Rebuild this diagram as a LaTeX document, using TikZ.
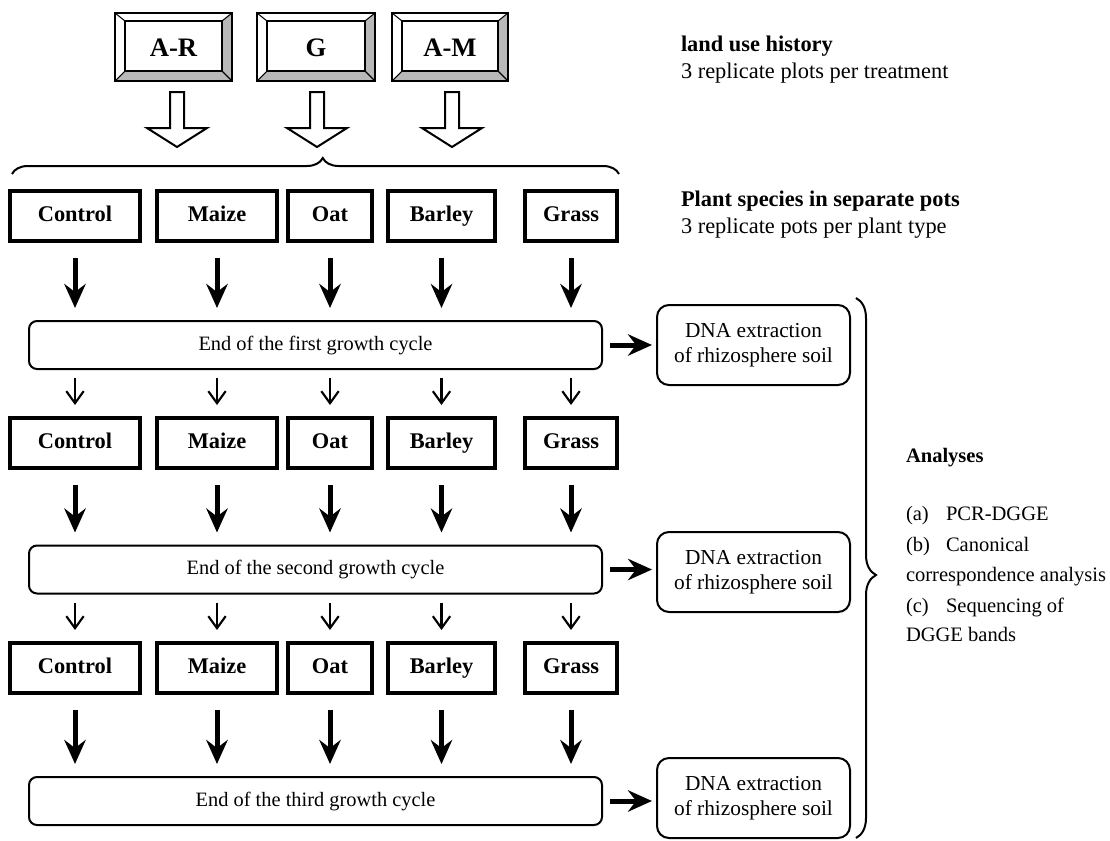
\documentclass[tikz,border=0pt]{standalone}
\usepackage{fontspec}
\setmainfont{Liberation Serif}
\usetikzlibrary{arrows.meta,calc,decorations.pathreplacing}
\begin{document}
\begin{tikzpicture}[x=0.75pt,y=-0.75pt,
  every node/.style={inner sep=0pt, outer sep=0pt},
  topbox/.style={draw, line width=2.2pt, minimum height=51pt, text height=13.5pt, text depth=0pt, font=\fontsize{20}{24}\selectfont\bfseries},
  plantbox/.style={draw, line width=3pt, minimum height=37.5pt, text height=11.5pt, text depth=3.5pt, font=\fontsize{16.8}{20}\selectfont\bfseries},
  endbox/.style={draw, line width=1.5pt, rounded corners=6pt, minimum width=429.75pt, minimum height=36pt, text height=10.5pt, text depth=3pt, font=\fontsize{15.3}{18}\selectfont},
  dnabox/.style={draw, line width=1.5pt, rounded corners=9pt, minimum width=144.75pt, minimum height=60pt, align=center, font=\fontsize{16}{19}\selectfont},
  thickarrow/.style={line width=3.75pt, -{Stealth[length=18pt,width=16pt,inset=6pt]}},
  thinarrow/.style={line width=1.6pt, -{Straight Barb[length=9pt,width=13pt]}},
  hollow/.style={draw, line width=1.5pt, fill=white, line join=miter},
  bracestyle/.style={line width=1.5pt, decorate},
  note/.style={anchor=base west, font=\fontsize{16.8}{20}\selectfont},
  listnote/.style={anchor=base west, font=\fontsize{15.4}{18}\selectfont},
  bevel/.style={fill=black!28},
  hollowarrow/.pic={\draw[hollow] (-7,0) -- (-7,36) -- (-30,36) -- (0,55) -- (30,36) -- (7,36) -- (7,0) -- cycle;}
]
\useasboundingbox (0,0) rectangle (1110,840);

% top boxes
\node[topbox, minimum width=87.75pt] (ar) at (173.5,47) {A-R};
\node[topbox, minimum width=88.5pt] (g) at (316,47) {G};
\node[topbox, minimum width=87pt] (am) at (450,47) {A-M};
\foreach \n in {ar,g,am}{
  \fill[bevel] (\n.south west) -- (\n.south east) -- ($(\n.south east)+(-10,-10)$) -- ($(\n.south west)+(10,-10)$) -- cycle;
  \fill[bevel] (\n.north east) -- ($(\n.north east)+(-10,8)$) -- ($(\n.south east)+(-10,-10)$) -- (\n.south east) -- cycle;
  \draw[line width=1.6pt] ($(\n.north west)+(10,8)$) rectangle ($(\n.south east)+(-10,-10)$);
  \draw[line width=0.8pt] (\n.north west) -- ++(10,8) (\n.north east) -- ++(-10,8)
        (\n.south west) -- ++(10,-10) (\n.south east) -- ++(-10,-10);
  \draw[line width=2.2pt] (\n.north west) rectangle (\n.south east);
}

% hollow arrows
\pic at ($(ar.south)+(3.5,11)$) {hollowarrow};
\pic at ($(g.south)+(1,11)$) {hollowarrow};
\pic at ($(am.south)+(2,11)$) {hollowarrow};

% top brace
\coordinate (bl) at (12,174);
\coordinate (br) at (619,174);
\draw[bracestyle, decoration={brace, amplitude=12pt, aspect=0.512}] (bl) -- (br);

% plant rows
\foreach \r/\y in {1/216,2/443,3/668}{
  \node[plantbox, minimum width=97.5pt] (c\r) at (75,\y) {Control};
  \node[plantbox, minimum width=90pt] (m\r) at (217,\y) {Maize};
  \node[plantbox, minimum width=63pt] (o\r) at (330,\y) {Oat};
  \node[plantbox, minimum width=80.25pt] (b\r) at (441.5,\y) {Barley};
  \node[plantbox, minimum width=69pt] (gr\r) at (571,\y) {Grass};
}

% end boxes
\node[endbox] (e1) at (315.5,345) {End of the first growth cycle};
\node[endbox] (e2) at (315.5,569.5) {End of the second growth cycle};
\node[endbox] (e3) at (315.5,801) {End of the third growth cycle};

% DNA boxes
\node[dnabox] (d1) at (753.5,345) {DNA extraction\\of rhizosphere soil};
\node[dnabox] (d2) at (753.5,572) {DNA extraction\\of rhizosphere soil};
\node[dnabox] (d3) at (753.5,798) {DNA extraction\\of rhizosphere soil};

% thick arrows
\foreach \r in {1,2,3}{
  \foreach \p in {c,m,o,b,gr}{
    \draw[thickarrow, shorten <=12.75pt, shorten >=9.75pt] (\p\r.south) -- (\p\r.south |- e\r.north);
  }
  \draw[thickarrow, shorten <=6pt, shorten >=3.75pt] (e\r.east) -- (e\r.east -| d\r.west);
}

% thin arrows
\foreach \r/\k in {1/2,2/3}{
  \foreach \p in {c,m,o,b,gr}{
    \draw[thinarrow, shorten <=6.75pt, shorten >=9.75pt] (\p\k.north |- e\r.south) -- (\p\k.north);
  }
}

% right brace
\coordinate (rt) at (856,298);
\coordinate (rb) at (856,838);
\draw[bracestyle, decoration={brace, amplitude=15pt, aspect=0.513}] (rt) -- (rb);

% notes
\node[note] (luh) at (681,51) {\bfseries land use history};
\node[note] (luh2) at (681,78) {3 replicate plots per treatment};
\node[note] (ps) at (681,206) {\bfseries Plant species in separate pots};
\node[note] (ps2) at (681,233) {3 replicate pots per plant type};
\node[listnote] (an) at (906,462) {\bfseries Analyses};
\node[listnote] (a1) at (906,520) {\makebox[30pt][l]{(a)}PCR-DGGE};
\node[listnote] (a2) at (906,551) {\makebox[30pt][l]{(b)}Canonical};
\node[listnote] (a3) at (906,581) {correspondence analysis};
\node[listnote] (a4) at (906,612) {\makebox[30pt][l]{(c)}Sequencing of};
\node[listnote] (a5) at (906,641) {DGGE bands};
\end{tikzpicture}
\end{document}
